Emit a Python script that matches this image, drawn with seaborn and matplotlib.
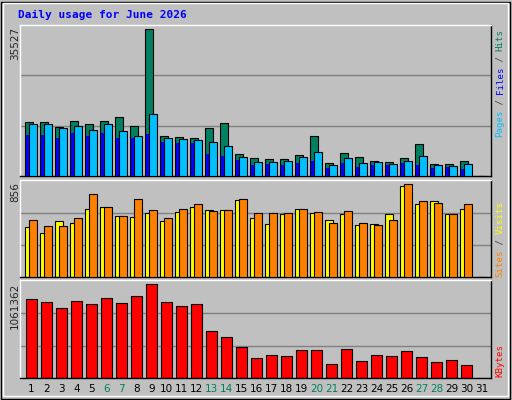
import matplotlib
matplotlib.use("Agg")
import matplotlib.pyplot as plt
import seaborn as sns
import numpy as np
import pandas as pd

# Daily values (June 2026, day 31 empty)
days = list(range(1, 32))
hits = [13000, 13000, 12030, 13240, 12515, 13240, 14210, 12273, 35527, 9850,
        9608, 9366, 11788, 12757, 5490, 4521, 4279, 4279, 5248, 9850,
        3310, 5733, 4764, 3795, 3553, 4521, 7913, 3068, 3068, 3795, 0]
files = [12515, 12515, 11788, 12273, 11304, 12515, 11061, 9850, 14937, 9366,
         9124, 8881, 8397, 7428, 4764, 3553, 3553, 3795, 4764, 5975,
         2826, 4521, 3310, 3553, 3068, 3795, 5006, 2826, 2584, 3068, 0]
pages = [10093, 10093, 9366, 10577, 9850, 10577, 9366, 9366, 10335, 8397,
         8155, 8155, 5490, 5006, 4037, 2826, 3068, 2826, 3310, 3795,
         2099, 3310, 2341, 2826, 2826, 3310, 2826, 2099, 2341, 1857, 0]
sites = [465, 409, 512, 502, 623, 642, 567, 549, 586, 512,
         595, 642, 614, 614, 707, 540, 493, 577, 623, 586,
         521, 577, 484, 493, 577, 837, 670, 698, 577, 623, 0]
visits = [530, 474, 474, 540, 763, 642, 558, 716, 614, 540,
          623, 670, 605, 614, 716, 586, 586, 586, 623, 595,
          502, 605, 502, 484, 521, 856, 698, 679, 577, 670, 0]
kbytes = [898000, 863000, 793000, 875000, 840000, 910000, 851000, 933000, 1061362, 863000,
          816000, 840000, 537000, 467000, 350000, 233000, 268000, 257000, 315000, 315000,
          163000, 327000, 198000, 268000, 257000, 303000, 245000, 187000, 210000, 152000, 0]
weekend = {6, 7, 13, 14, 20, 21, 27, 28}

sns.set_style("white")
plt.rcParams["font.family"] = ["DejaVu Sans Mono"]

BG = "#c0c0c0"
GREEN = "#008060"
fig = plt.figure(figsize=(5.12, 4.0), dpi=100, facecolor=BG)

x = np.array(days, dtype=float)
px = 1 / 15.0  # one pixel in day units


def panel(bottom, height):
    ax = fig.add_axes([20 / 512, bottom, 471 / 512, height])
    ax.set_facecolor(BG)
    ax.set_xlim(1 - 11.5 * px, 1 + 459.5 * px)
    ax.set_xticks([])
    ax.set_yticks([])
    for s in ax.spines.values():
        s.set_color("black")
        s.set_linewidth(1)
    ax.spines["top"].set_color("white")
    ax.spines["left"].set_color("white")
    return ax


def grid(ax, top):
    for f in (1 / 3, 2 / 3):
        ax.axhline(top * f, color="#808080", lw=1, zorder=0)


# top panel: hits / files / pages
ax1 = panel(1 - 176.3 / 400, 151.6 / 400)
top1 = max(hits) / 0.97
ax1.set_ylim(0, top1)
grid(ax1, top1)
ax1.bar(x - 2.5 * px, hits, width=7.5 * px, color=GREEN, edgecolor="black", lw=0.8, zorder=2)
ax1.bar(x - 3.8 * px, pages, width=2.5 * px, color="#0000ff", edgecolor="none", zorder=3)
ax1.bar(x + 1.5 * px, files, width=7.5 * px, color="#00bfff", edgecolor="black", lw=0.8, zorder=4)

# middle panel: sites / visits
ax2 = panel(1 - 277 / 400, 96.7 / 400)
top2 = max(visits) / 0.96
ax2.set_ylim(0, top2)
grid(ax2, top2)
ax2.bar(x - 2.5 * px, sites, width=7.5 * px, color="#ffff00", edgecolor="black", lw=0.8, zorder=2)
ax2.bar(x + 1.5 * px, visits, width=7.5 * px, color="#ff8000", edgecolor="black", lw=0.8, zorder=3)

# bottom panel: kbytes
ax3 = panel(1 - 378.3 / 400, 98 / 400)
top3 = max(kbytes) / 0.96
ax3.set_ylim(0, top3)
grid(ax3, top3)
kb = pd.DataFrame({"day": x - 0.2 * px, "kbytes": kbytes})
ax3.bar(kb["day"], kb["kbytes"], width=10.5 * px, color="#ff0000", edgecolor="black", lw=0.8, zorder=2)

# day labels
for d in days:
    fx = (31.5 + (d - 1) * 15) / 512
    fig.text(fx, 1 - 389 / 400, str(d), ha="center", va="center", fontsize=7.5,
             color=GREEN if d in weekend else "black", family="DejaVu Sans")

# max labels on the left
for ax, val in ((ax1, "35527"), (ax2, "856"), (ax3, "1061362")):
    b = ax.get_position()
    fig.text(15 / 512, b.y1 - 2 / 400, val, rotation=90, ha="center", va="top",
             fontsize=7.5, family="DejaVu Sans")


# right side legends (stacked pieces, reading bottom to top)
CHAR = 5.4  # pixel advance per character


def vlabel(y_bottom_px, parts):
    y_cur = 1 - y_bottom_px / 400
    for txt, col in parts:
        fig.text(500 / 512, y_cur, txt, rotation=90, ha="center", va="bottom",
                 fontsize=6.6, color=col)
        y_cur += len(txt) * CHAR / 400


vlabel(137, [("Pages", "#00bfff"), (" / ", "#404040"), ("Files", "#0000ff"),
             (" / ", "#404040"), ("Hits", GREEN)])
vlabel(277, [("Sites", "#ff8000"), (" / ", "#404040"), ("Visits", "#ffff00")])
vlabel(377, [("KBytes", "#ff0000")])

fig.text(18 / 512, 1 - 15 / 400, "Daily usage for June 2026", ha="left", va="center",
         fontsize=8, fontweight="bold", color="#0000ff")

# outer bevel
fig.patches.append(plt.Rectangle((0.002, 0.003), 0.994, 0.993, transform=fig.transFigure,
                                 fill=False, edgecolor="black", lw=1))
fig.patches.append(plt.Rectangle((0.006, 0.01), 0.986, 0.983, transform=fig.transFigure,
                                 fill=False, edgecolor="white", lw=1))

fig.savefig("out.png", dpi=100, facecolor=BG)
